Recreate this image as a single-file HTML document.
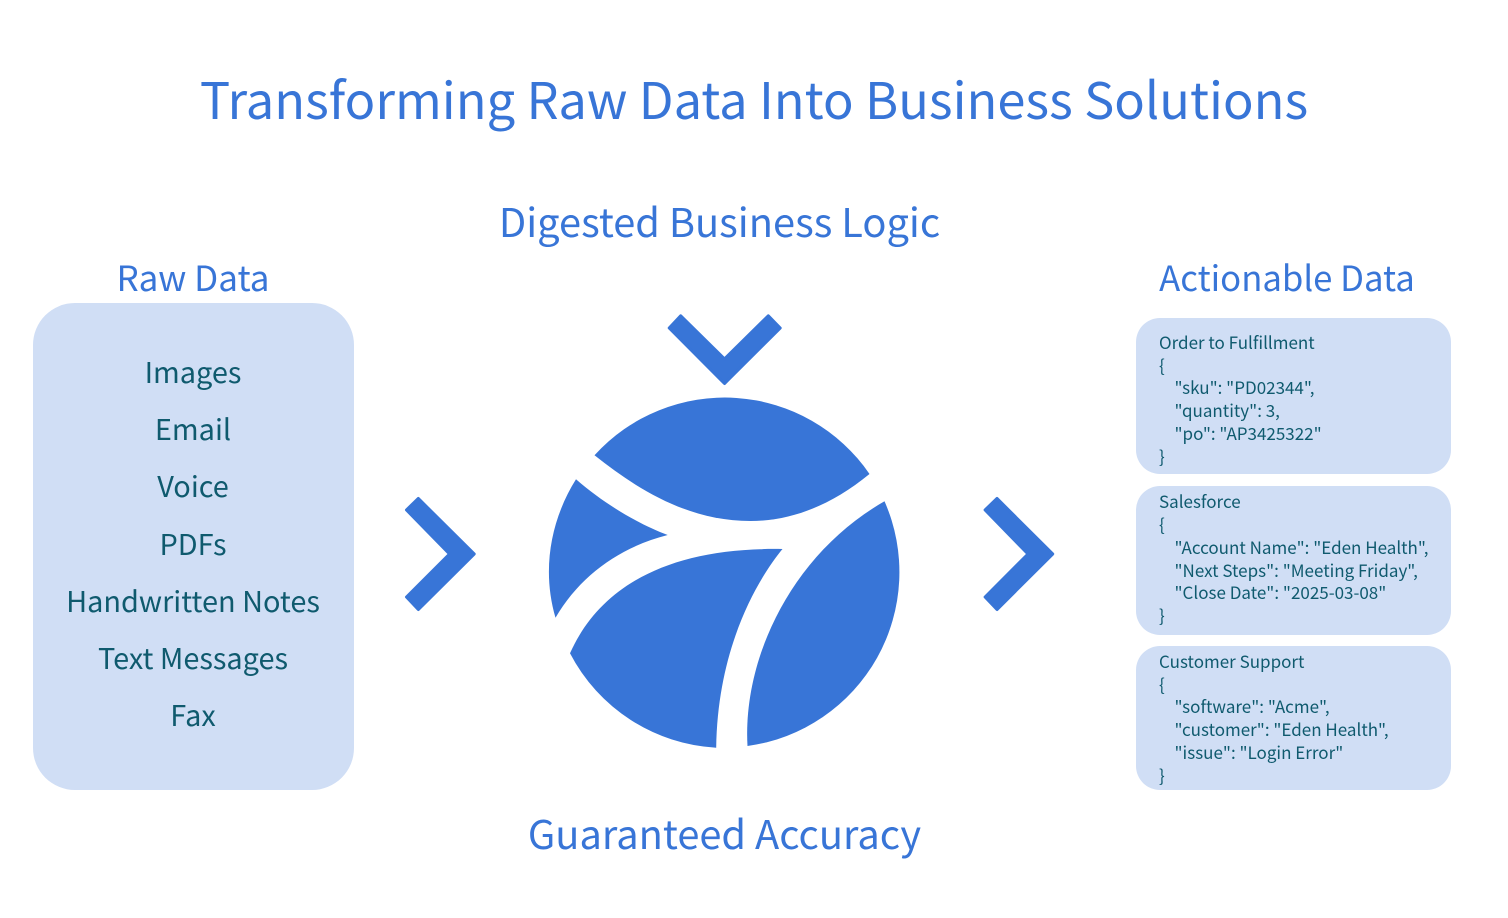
<!DOCTYPE html>
<html><head><meta charset="utf-8"><style>
html,body{margin:0;padding:0;background:#fff;width:1508px;height:918px;overflow:hidden}
svg{display:block}
text{font-family:"Noto Sans CJK JP","Liberation Sans",sans-serif;white-space:pre}
.h{fill:#3875D7}
.l{fill:#0F5A6E;font-size:28.9px;text-anchor:middle}
.s{fill:#0F5A6E;font-size:17px}
</style></head><body>
<svg width="1508" height="918" viewBox="0 0 1508 918" xmlns="http://www.w3.org/2000/svg">
<text class="h" x="754" y="119" font-size="50.6" text-anchor="middle">Transforming Raw Data Into Business Solutions</text>
<text class="h" x="719.5" y="237" font-size="39.8" text-anchor="middle">Digested Business Logic</text>
<text class="h" x="193" y="291" font-size="35" text-anchor="middle">Raw Data</text>
<text class="h" x="1287" y="291" font-size="34.7" text-anchor="middle">Actionable Data</text>
<text class="h" x="724.5" y="849" font-size="39.8" text-anchor="middle">Guaranteed Accuracy</text>
<rect x="33" y="303" width="321" height="487" rx="42" fill="#D0DEF5"/>
<text class="l" x="193" y="383">Images</text>
<text class="l" x="193" y="440">Email</text>
<text class="l" x="193" y="497">Voice</text>
<text class="l" x="193" y="555">PDFs</text>
<text class="l" x="193" y="612">Handwritten Notes</text>
<text class="l" x="193" y="669">Text Messages</text>
<text class="l" x="193" y="726">Fax</text>
<rect x="1136" y="318" width="315" height="156" rx="24" fill="#D0DEF5"/>
<rect x="1136" y="486" width="315" height="149" rx="24" fill="#D0DEF5"/>
<rect x="1136" y="646" width="315" height="144" rx="24" fill="#D0DEF5"/>
<text class="s" x="1159" y="349">Order to Fulfillment</text>
<text class="s" x="1159" y="372">{</text>
<text class="s" x="1174.5" y="394">"sku": "PD02344",</text>
<text class="s" x="1174.5" y="417">"quantity": 3,</text>
<text class="s" x="1174.5" y="440">"po": "AP3425322"</text>
<text class="s" x="1159" y="463">}</text>
<text class="s" x="1159" y="508">Salesforce</text>
<text class="s" x="1159" y="531">{</text>
<text class="s" x="1174.5" y="554">"Account Name": "Eden Health",</text>
<text class="s" x="1174.5" y="577">"Next Steps": "Meeting Friday",</text>
<text class="s" x="1174.5" y="599">"Close Date": "2025-03-08"</text>
<text class="s" x="1159" y="622">}</text>
<text class="s" x="1159" y="668">Customer Support</text>
<text class="s" x="1159" y="691">{</text>
<text class="s" x="1174.5" y="713">"software": "Acme",</text>
<text class="s" x="1174.5" y="736">"customer": "Eden Health",</text>
<text class="s" x="1174.5" y="759">"issue": "Login Error"</text>
<text class="s" x="1159" y="782">}</text>
<g fill="#3875D7" stroke="#3875D7" stroke-width="3" stroke-linejoin="round">
<path d="M418.3 498.5 L474.2 554 L418.3 609.5 L406.5 597 L449.5 554 L406.5 510Z"/>
<path d="M997 498.5 L1052.7 554 L997 609.5 L985.1 597 L1028 554 L985.1 510Z"/>
<path d="M680.7 315.8 L724.5 359 L768.3 315.8 L780.2 328 L724.5 383.5 L669.2 328Z"/>
</g>
<g fill="#3875D7" transform="translate(0.5 0)">
<path d="M594 455.3 A175.5 175.5 0 0 1 869 474 C830 506 790 521 750 521 C690 521 640 492 594 455.3Z"/>
<path d="M575.5 479.3 C605 505 640 525 667.2 535 C620 547 580 575 555 617.7 C541 570 550 520 575.5 479.3Z"/>
<path d="M782 549 C755 582 717 650 715.7 747.7 A175.5 175.5 0 0 1 569.5 653.3 C600 585 670 547 782 549Z"/>
<path d="M884 501.3 A175.5 175.5 0 0 1 747 746 C742 660 790 555 884 501.3Z"/>
</g>
</svg>
</body></html>
